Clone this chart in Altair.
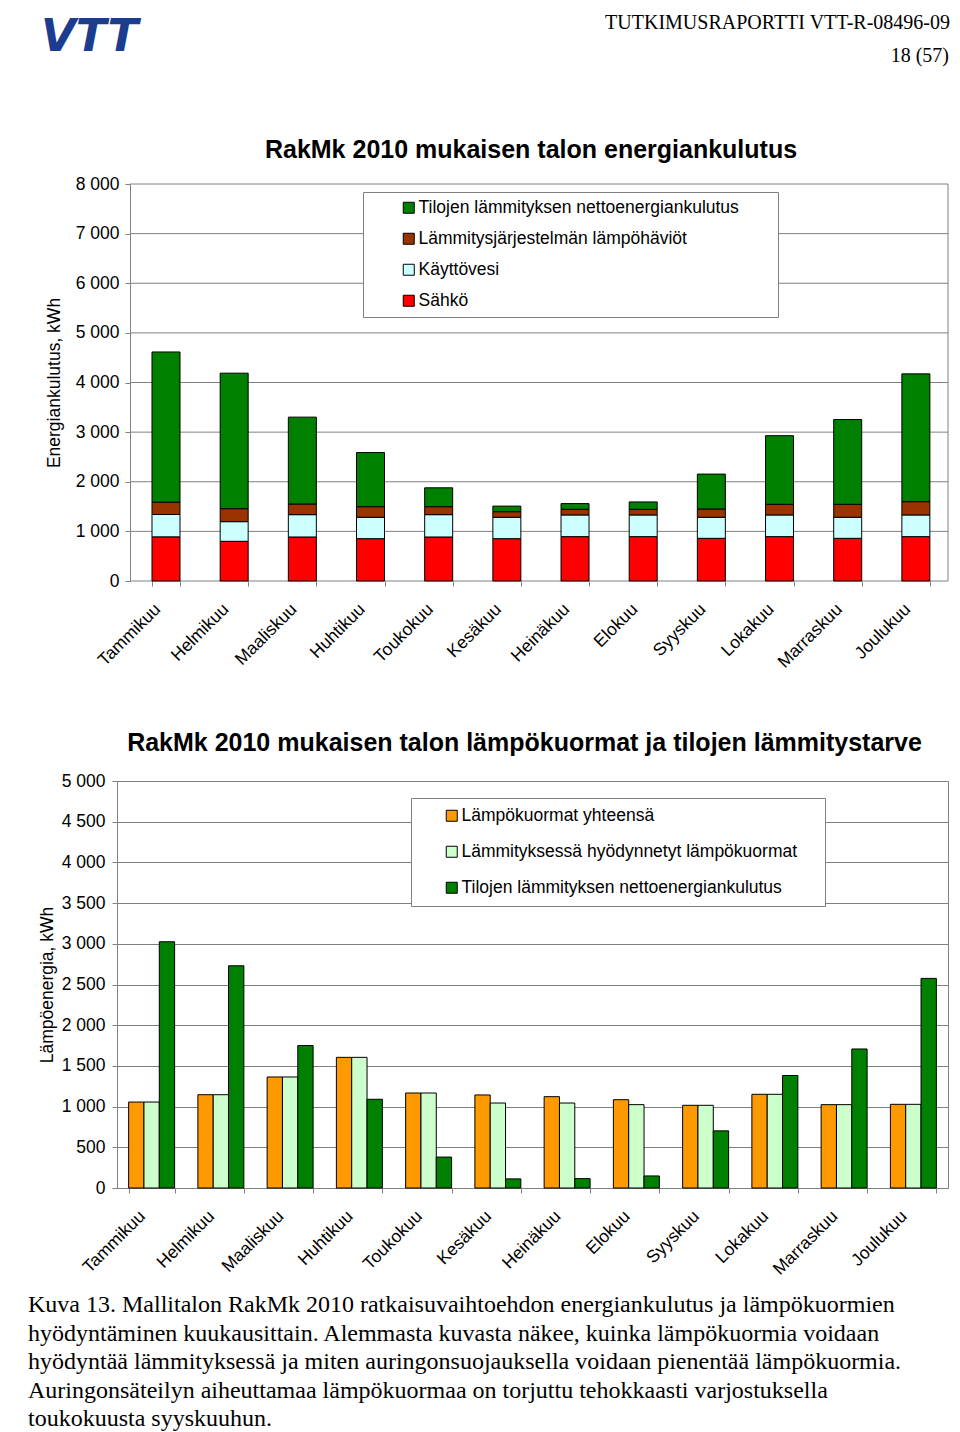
import altair as alt
import pandas as pd

# ---------------- data ----------------
months = ["Tammikuu", "Helmikuu", "Maaliskuu", "Huhtikuu", "Toukokuu", "Kesäkuu",
          "Heinäkuu", "Elokuu", "Syyskuu", "Lokakuu", "Marraskuu", "Joulukuu"]

# chart 1 (stacked), kWh
sahko = [890, 800, 887, 853, 887, 853, 894, 894, 860, 894, 860, 894]
kayttovesi = [450, 396, 450, 431, 450, 431, 437, 437, 424, 437, 424, 437]
lampohaviot = [250, 262, 215, 214, 161, 113, 114, 114, 168, 215, 262, 268]
netto = [3025, 2730, 1750, 1090, 380, 112, 115, 148, 702, 1382, 1708, 2575]

# chart 2 (grouped), kWh
kuormat_yht = [1056, 1146, 1364, 1605, 1167, 1143, 1122, 1085, 1016, 1151, 1024, 1028]
kuormat_hyod = [1056, 1146, 1364, 1605, 1167, 1044, 1044, 1024, 1016, 1151, 1024, 1028]

s1 = ["Tilojen lämmityksen nettoenergiankulutus", "Lämmitysjärjestelmän lämpöhäviöt",
      "Käyttövesi", "Sähkö"]
col1 = ["#008000", "#993300", "#CCFFFF", "#FF0000"]
s2 = ["Lämpökuormat yhteensä", "Lämmityksessä hyödynnetyt lämpökuormat",
      "Tilojen lämmityksen nettoenergiankulutus"]
col2 = ["#FF9900", "#CCFFCC", "#008000"]

c1_ticks = list(range(0, 8001, 1000))
c2_ticks = list(range(0, 5001, 500))

title1 = "RakMk 2010 mukaisen talon energiankulutus"
title2 = "RakMk 2010 mukaisen talon lämpökuormat ja tilojen lämmitystarve"
ytitle1 = "Energiankulutus, kWh"
ytitle2 = "Lämpöenergia, kWh"

header_title = "TUTKIMUSRAPORTTI VTT-R-08496-09"
page_label = "18 (57)"
logo_text = "VTT"

caption_lines = [
    "Kuva 13. Mallitalon RakMk 2010 ratkaisuvaihtoehdon energiankulutus ja lämpökuormien",
    "hyödyntäminen kuukausittain. Alemmasta kuvasta näkee, kuinka lämpökuormia voidaan",
    "hyödyntää lämmityksessä ja miten auringonsuojauksella voidaan pienentää lämpökuormia.",
    "Auringonsäteilyn aiheuttamaa lämpökuormaa on torjuttu tehokkaasti varjostuksella",
    "toukokuusta syyskuuhun.",
]

# ---------------- tables ----------------
stack_series = [(s1[3], sahko, 0), (s1[2], kayttovesi, 1), (s1[1], lampohaviot, 2), (s1[0], netto, 3)]
rows1 = []
for name, vals, o in stack_series:
    for m, v in zip(months, vals):
        rows1.append({"kuukausi": m, "sarja": name, "arvo": v, "jarj": o})
df1 = pd.DataFrame(rows1)

rows2 = []
for name, vals in zip(s2, [kuormat_yht, kuormat_hyod, netto]):
    for m, v in zip(months, vals):
        rows2.append({"kuukausi": m, "sarja": name, "arvo": v})
df2 = pd.DataFrame(rows2)

# ---------------- layout constants ----------------
W = 831
H1 = 397
H2 = 407
SHIFT = 13
S = 10
HH = 120
Y0 = 23
GRAY = "#808080"
FS = 17.5
label_expr = "replace(format(datum.value, ','), ',', ' ')"

# ---------------- chart 1 ----------------
y_axis1 = alt.Axis(values=c1_ticks, title=ytitle1, titlePadding=12, labelPadding=6,
                   tickSize=5, tickColor=GRAY, domainColor=GRAY, grid=False,
                   offset=-SHIFT, labelExpr=label_expr)
x_axis1 = alt.Axis(title="\u00a0", titlePadding=31, labelAngle=-45, labelAlign="right",
                   labelBaseline="top", labelPadding=14, labelOffset=-15, domain=False,
                   tickBand="extent", tickSize=5, tickColor=GRAY, grid=False)
legend1 = alt.Legend(title=".", titleOrient="right", titleColor="white", titleFontSize=10,
                     titlePadding=29,
                     orient="none", legendX=246, legendY=8, direction="vertical",
                     symbolType="square", symbolSize=121, symbolStrokeColor="black",
                     symbolStrokeWidth=1, labelFontSize=FS, labelColor="black", labelLimit=600,
                     rowPadding=12, padding=7, strokeColor=GRAY, fillColor="white",
                     symbolOffset=30, labelOffset=1)

grid1 = alt.Chart(pd.DataFrame({"arvo": c1_ticks})).mark_rule(color=GRAY, strokeWidth=1).encode(
    y=alt.Y("arvo:Q", axis=y_axis1, scale=alt.Scale(domain=[0, 8000], nice=False)),
    x=alt.value(SHIFT), x2=alt.value(W))
border1 = alt.Chart(pd.DataFrame({"k": [0]})).mark_rule(color=GRAY, strokeWidth=1).encode(
    x=alt.value(W), y=alt.value(0), y2=alt.value(H1))
bars1 = alt.Chart(df1).mark_bar(stroke="black", strokeWidth=1).encode(
    x=alt.X("kuukausi:N", sort=months,
            scale=alt.Scale(paddingInner=0.5893, paddingOuter=0.3897, align=0.6587),
            axis=x_axis1),
    y=alt.Y("arvo:Q", stack="zero", axis=y_axis1, scale=alt.Scale(domain=[0, 8000], nice=False)),
    color=alt.Color("sarja:N", scale=alt.Scale(domain=s1, range=col1), legend=legend1),
    order=alt.Order("jarj:Q"),
)
chart1 = alt.layer(grid1, border1, bars1).properties(
    width=W, height=H1,
    title=alt.TitleParams(title1, fontSize=25, fontWeight="bold", anchor="middle", frame="group",
                          baseline="alphabetic", offset=-8, dx=-1.5, color="black"),
    view=alt.ViewBackground(stroke=None),
)

# ---------------- chart 2 ----------------
y_axis2 = alt.Axis(values=c2_ticks, title=ytitle2, titlePadding=5, labelPadding=7,
                   tickSize=5, tickColor=GRAY, domainColor=GRAY, grid=True, gridColor=GRAY,
                   gridOpacity=1, labelExpr=label_expr)
x_axis2 = alt.Axis(title=None, labelAngle=-45, labelAlign="right", labelBaseline="top",
                   labelPadding=14, labelOffset=-16, domainColor=GRAY, tickBand="extent",
                   tickSize=5, tickColor=GRAY, grid=False)
legend2 = alt.Legend(title=".", titleOrient="right", titleColor="white", titleFontSize=10,
                     titlePadding=16,
                     orient="none", legendX=294, legendY=17, direction="vertical",
                     symbolType="square", symbolSize=121, symbolStrokeColor="black",
                     symbolStrokeWidth=1, labelFontSize=FS, labelColor="black", labelLimit=600,
                     rowPadding=17, padding=9, strokeColor=GRAY, fillColor="white",
                     symbolOffset=23, labelOffset=1)
chart2 = alt.Chart(df2).mark_bar(stroke="black", strokeWidth=1).encode(
    x=alt.X("kuukausi:N", sort=months, scale=alt.Scale(paddingInner=0.336, paddingOuter=0.168),
            axis=x_axis2),
    xOffset=alt.XOffset("sarja:N", sort=s2, scale=alt.Scale(paddingInner=0, paddingOuter=0)),
    y=alt.Y("arvo:Q", axis=y_axis2, scale=alt.Scale(domain=[0, 5000], nice=False)),
    color=alt.Color("sarja:N", scale=alt.Scale(domain=s2, range=col2), legend=legend2),
).properties(
    width=W, height=H2,
    title=alt.TitleParams(title2, fontSize=25, fontWeight="bold", anchor="middle", frame="group",
                          baseline="alphabetic", offset=-4, dx=-8, color="black"),
    view=alt.ViewBackground(stroke=GRAY),
)

# ---------------- header ----------------
logo = alt.Chart(pd.DataFrame({"t": [logo_text]})).mark_text(
    font="DejaVu Sans", fontSize=45, fontWeight="bold", fontStyle="italic",
    color="#1B3C8F", align="left", baseline="alphabetic").encode(
    text="t:N", x=alt.value(-76), y=alt.value(43))
rep = alt.Chart(pd.DataFrame({"t": [header_title]})).mark_text(
    font="Liberation Serif", fontSize=20, color="black", align="right", baseline="alphabetic").encode(
    text="t:N", x=alt.value(833), y=alt.value(21))
pg = alt.Chart(pd.DataFrame({"t": [page_label]})).mark_text(
    font="Liberation Serif", fontSize=20, color="black", align="right", baseline="alphabetic").encode(
    text="t:N", x=alt.value(832), y=alt.value(54))
header = alt.layer(logo, rep, pg).properties(width=W, height=HH, view=alt.ViewBackground(stroke=None))

# ---------------- caption ----------------
cap_df = pd.DataFrame({"rivi": caption_lines, "i": list(range(len(caption_lines)))})
d0 = -Y0 / 28.5
caption = alt.Chart(cap_df).mark_text(
    font="Liberation Serif", fontSize=24, color="black", align="left", baseline="alphabetic").encode(
    text="rivi:N", x=alt.value(-89),
    y=alt.Y("i:Q", scale=alt.Scale(domain=[d0, 4], reverse=True, nice=False, zero=False), axis=None),
).properties(width=W, height=114 + Y0, view=alt.ViewBackground(stroke=None))

chart = alt.vconcat(header, chart1, chart2, caption, spacing=S).resolve_scale(
    color="independent", x="independent", y="independent"
).properties(
    padding={"left": 20, "top": 0, "right": 0, "bottom": 0}
).configure(font="Liberation Sans").configure_axis(
    labelFont="Liberation Sans", titleFont="Liberation Sans", labelFontSize=FS, titleFontSize=FS,
    labelColor="black", titleColor="black", titleFontWeight="normal"
).configure_legend(labelFont="Liberation Sans").configure_title(font="Liberation Sans")

chart.save("out.html", embed_options={"renderer": "svg", "actions": False})
